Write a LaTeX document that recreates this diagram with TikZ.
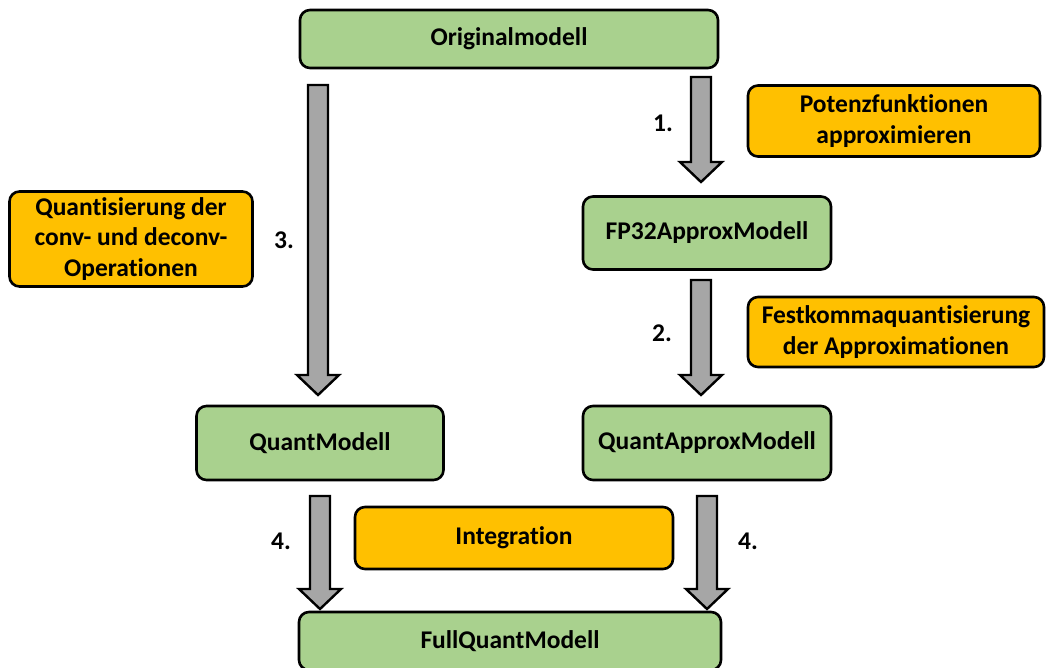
\documentclass[tikz,border=0pt]{standalone}
\usepackage{fontspec}
\setmainfont[Ligatures=NoCommon]{Carlito}
\usetikzlibrary{calc}
\definecolor{boxgreen}{HTML}{A9D18E}
\definecolor{boxorange}{HTML}{FFC000}
\definecolor{arrgray}{HTML}{A6A6A6}
\tikzset{
  model/.style={draw=black, line width=2.6pt, rounded corners=10pt, fill=boxgreen, font=\fontsize{25.5}{30}\selectfont\bfseries, align=center, inner sep=0pt},
  opbox/.style={draw=black, line width=2.6pt, rounded corners=10pt, fill=boxorange, font=\fontsize{25.5}{30.5}\selectfont\bfseries, align=center, inner sep=0pt},
  numlabel/.style={font=\fontsize{25.5}{30}\selectfont\bfseries},
  blockarr/.style={draw=black, line width=2.4pt, fill=arrgray, line join=miter}
}
\newcommand\blockarrow[2]{%
  \path[blockarr] let \p1=(#1), \p2=(#2) in
    (\x1-10pt,\y1) -- (\x1+10pt,\y1) -- (\x1+10pt,\y2+20pt) -- (\x1+21pt,\y2+20pt)
    -- (\x1,\y2) -- (\x1-21pt,\y2+20pt) -- (\x1-10pt,\y2+20pt) -- cycle;}
\begin{document}
\begin{tikzpicture}[x=1pt,y=-1pt]
\useasboundingbox (0,0) rectangle (1046,667);
% nodes
\node[model, minimum width=418pt, minimum height=58pt] (orig) at (509,39) {Originalmodell};
\node[model, minimum width=248pt, minimum height=73pt] (fp32) at (707,233) {FP32ApproxModell};
\node[model, minimum width=248pt, minimum height=74pt] (qam) at (707,443) {QuantApproxModell};
\node[model, minimum width=247pt, minimum height=74pt] (qm) at (320,443) {QuantModell};
\node[model, minimum width=422pt, minimum height=58pt] (full) at (510,641) {FullQuantModell};
\node[opbox, minimum width=292pt, minimum height=71pt] (pot) at (894,121) {Potenzfunktionen\\approximieren};
\node[opbox, minimum width=296pt, minimum height=70pt] (fest) at (896,332) {Festkommaquantisierung\\der Approximationen};
\node[opbox, minimum width=243pt, minimum height=95pt] (quant) at (131,239) {Quantisierung der\\conv- und deconv-\\Operationen};
\node[opbox, minimum width=318pt, minimum height=62pt] (integ) at (514,538) {Integration};
% labels
\node[numlabel] (l1) at (663,123) {1.};
\node[numlabel] (l2) at (662,333) {2.};
\node[numlabel] (l3) at (284,240) {3.};
\node[numlabel] (l4a) at (281,541) {4.};
\node[numlabel] (l4b) at (748,541) {4.};
% arrow end points
\coordinate (a1s) at (701,77);  \coordinate (a1e) at (701,182);
\coordinate (a2s) at (701,280); \coordinate (a2e) at (701,395);
\coordinate (a3s) at (318,85);  \coordinate (a3e) at (318,395);
\coordinate (a4s) at (320,496); \coordinate (a4e) at (320,609);
\coordinate (a5s) at (707,496); \coordinate (a5e) at (707,609);
\blockarrow{a1s}{a1e}
\blockarrow{a2s}{a2e}
\blockarrow{a3s}{a3e}
\blockarrow{a4s}{a4e}
\blockarrow{a5s}{a5e}
\end{tikzpicture}
\end{document}
